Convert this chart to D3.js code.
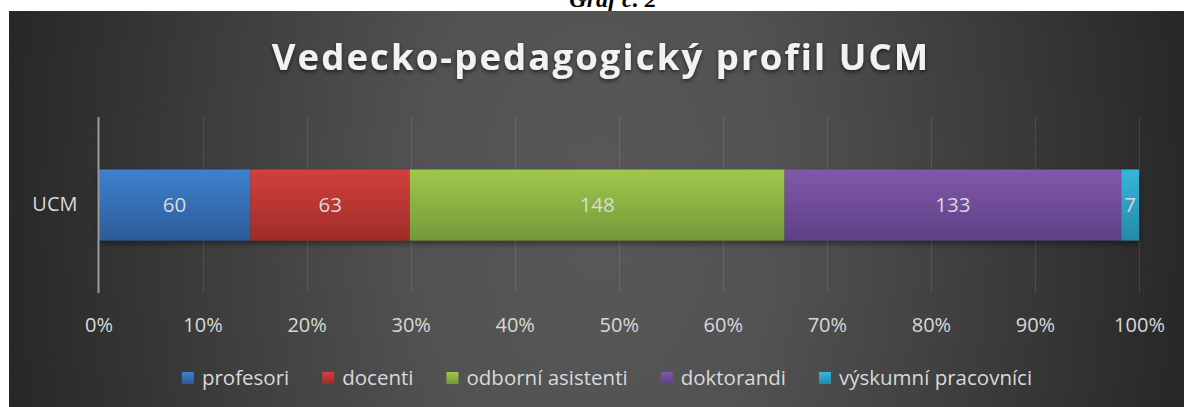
<!DOCTYPE html>
<html>
<head>
<meta charset="utf-8">
<script src="https://cdn.jsdelivr.net/npm/d3@7"></script>
<style>
    body { margin: 0; background: #fff; }
    svg { display: block; }
    .chart text { font-family: 'Open Sans', sans-serif; }
</style>
</head>
<body>
<div id="chart1"></div>
<script>
var categories = ["UCM"];
var seriesNames = ["profesori", "docenti", "odborní asistenti", "doktorandi", "výskumní pracovníci"];
var seriesValues = [60, 63, 148, 133, 7];
var seriesTop = ["#3e80d0", "#d2403c", "#9fc84b", "#8059ab", "#36b6db"];
var seriesBottom = ["#2d5b98", "#a02b29", "#74993a", "#5e3f85", "#2789a8"];
var tickValues = [0, 0.1, 0.2, 0.3, 0.4, 0.5, 0.6, 0.7, 0.8, 0.9, 1];

var width = 1184, height = 407;
var margin = { top: 117, right: 45, bottom: 114, left: 98.5 };

var svg = d3.select('#chart1').classed('chart', true).append('svg')
    .attr('width', width)
    .attr('height', height);

var defs = svg.append('defs');

// background gradient
var bg = defs.append('radialGradient')
    .attr('id', 'bgGrad')
    .attr('gradientUnits', 'userSpaceOnUse')
    .attr('cx', 597).attr('cy', 209).attr('r', 610)
    .attr('gradientTransform', 'translate(597,209) scale(1,1.6) translate(-597,-209)');
bg.append('stop').attr('offset', 0).attr('stop-color', '#585858');
bg.append('stop').attr('offset', 0.3).attr('stop-color', '#525252');
bg.append('stop').attr('offset', 1).attr('stop-color', '#262626');

seriesNames.forEach(function (name, i) {
    var lg = defs.append('linearGradient')
        .attr('id', 'grad' + i)
        .attr('x1', 0).attr('y1', 0).attr('x2', 0).attr('y2', 1);
    lg.append('stop').attr('offset', 0).attr('stop-color', seriesTop[i]);
    lg.append('stop').attr('offset', 1).attr('stop-color', seriesBottom[i]);
});

var shadow = defs.append('filter').attr('id', 'shadow')
    .attr('x', '-5%').attr('y', '-20%').attr('width', '110%').attr('height', '150%');
shadow.append('feDropShadow')
    .attr('dx', 0).attr('dy', 2).attr('stdDeviation', 2)
    .attr('flood-color', '#000').attr('flood-opacity', 0.6);

var barShadow = defs.append('filter').attr('id', 'barShadow')
    .attr('x', '-2%').attr('y', '-20%').attr('width', '104%').attr('height', '150%');
barShadow.append('feDropShadow')
    .attr('dx', 0).attr('dy', 3).attr('stdDeviation', 3)
    .attr('flood-color', '#000').attr('flood-opacity', 0.45);

// caption above the chart (cut by the top edge, as in the source)
svg.append('text')
    .attr('x', 613).attr('y', 7)
    .attr('text-anchor', 'middle')
    .style('font-family', "'Liberation Serif', serif")
    .style('font-weight', 'bold')
    .style('font-style', 'italic')
    .style('font-size', '24px')
    .attr('fill', '#000')
    .text('Graf č. 2');

svg.append('rect')
    .attr('x', 9).attr('y', 11)
    .attr('width', width - 9).attr('height', height - 11)
    .attr('fill', 'url(#bgGrad)');

svg.append('text')
    .attr('x', 601).attr('y', 70)
    .attr('text-anchor', 'middle')
    .attr('fill', '#f2f2f2')
    .attr('filter', 'url(#shadow)')
    .style('font-weight', 'bold')
    .style('font-size', '36.5px')
    .style('letter-spacing', '2.1px')
    .text('Vedecko-pedagogický profil UCM');

var plotW = width - margin.left - margin.right;
var plotH = height - margin.top - margin.bottom;

var xScale = d3.scaleLinear().domain([0, 1]).range([margin.left, margin.left + plotW]);
var yScale = d3.scaleBand().domain(categories).range([margin.top, margin.top + plotH]).padding(0.425);

var row = { category: categories[0] };
seriesNames.forEach(function (name, i) { row[name] = seriesValues[i]; });
var stacked = d3.stack().keys(seriesNames).offset(d3.stackOffsetExpand)([row]);

// gridlines
svg.append('g')
    .attr('class', 'grid')
    .selectAll('line')
    .data(tickValues.slice(1))
    .enter().append('line')
    .attr('x1', function (d) { return Math.round(xScale(d)) + 0.5; })
    .attr('x2', function (d) { return Math.round(xScale(d)) + 0.5; })
    .attr('y1', margin.top).attr('y2', margin.top + plotH)
    .attr('stroke', 'rgba(255,255,255,0.1)')
    .attr('stroke-width', 1.2);

// bars
var series = svg.append('g').attr('class', 'series').attr('filter', 'url(#barShadow)');
series.selectAll('rect')
    .data(stacked)
    .enter().append('rect')
    .attr('x', function (d) { return xScale(d[0][0]); })
    .attr('y', yScale(categories[0]))
    .attr('width', function (d) { return xScale(d[0][1]) - xScale(d[0][0]); })
    .attr('height', yScale.bandwidth())
    .attr('fill', function (d, i) { return 'url(#grad' + i + ')'; });

svg.append('g').attr('class', 'labels')
    .selectAll('text')
    .data(stacked)
    .enter().append('text')
    .attr('x', function (d) { return (xScale(d[0][0]) + xScale(d[0][1])) / 2; })
    .attr('y', yScale(categories[0]) + yScale.bandwidth() / 2)
    .attr('dy', '0.35em')
    .attr('text-anchor', 'middle')
    .attr('fill', '#d9d9d9')
    .style('font-size', '20.5px')
    .text(function (d) { return d[0].data[d.key]; });

// axes
var xAxis = d3.axisBottom(xScale).tickValues(tickValues).tickSize(0).tickPadding(0).tickFormat(d3.format('.0%'));
var gx = svg.append('g')
    .attr('class', 'x axis')
    .attr('transform', 'translate(0,318)')
    .call(xAxis);
gx.select('.domain').remove();
gx.selectAll('text')
    .attr('fill', '#d9d9d9')
    .attr('dy', '0.35em')
    .attr('y', 7)
    .style('font-size', '20px');

var yAxis = d3.axisLeft(yScale).tickSize(0).tickPadding(21);
var gy = svg.append('g')
    .attr('class', 'y axis')
    .attr('transform', 'translate(' + margin.left + ',0)')
    .call(yAxis);
gy.select('.domain')
    .attr('d', 'M0,' + margin.top + 'V' + (margin.top + plotH))
    .attr('stroke', '#9a9a9a')
    .attr('stroke-width', 2);
gy.selectAll('text')
    .attr('fill', '#d9d9d9')
    .style('font-size', '20px');

// legend
var legend = svg.append('g').attr('class', 'legend');
var items = legend.selectAll('g')
    .data(seriesNames)
    .enter().append('g');
items.append('rect')
    .attr('width', 12).attr('height', 12)
    .attr('y', -6)
    .attr('fill', function (d, i) { return 'url(#grad' + i + ')'; });
items.append('text')
    .attr('x', 20)
    .attr('dy', '0.35em')
    .attr('fill', '#d9d9d9')
    .style('font-size', '20.5px')
    .text(function (d) { return d; });

var pos = 0;
items.each(function () {
    var w = d3.select(this).select('text').node().getComputedTextLength();
    d3.select(this).attr('transform', 'translate(' + pos + ',0)');
    pos += 20 + w + 33;
});
pos -= 33;
legend.attr('transform', 'translate(' + (607 - pos / 2) + ',378)');
</script>
</body>
</html>
